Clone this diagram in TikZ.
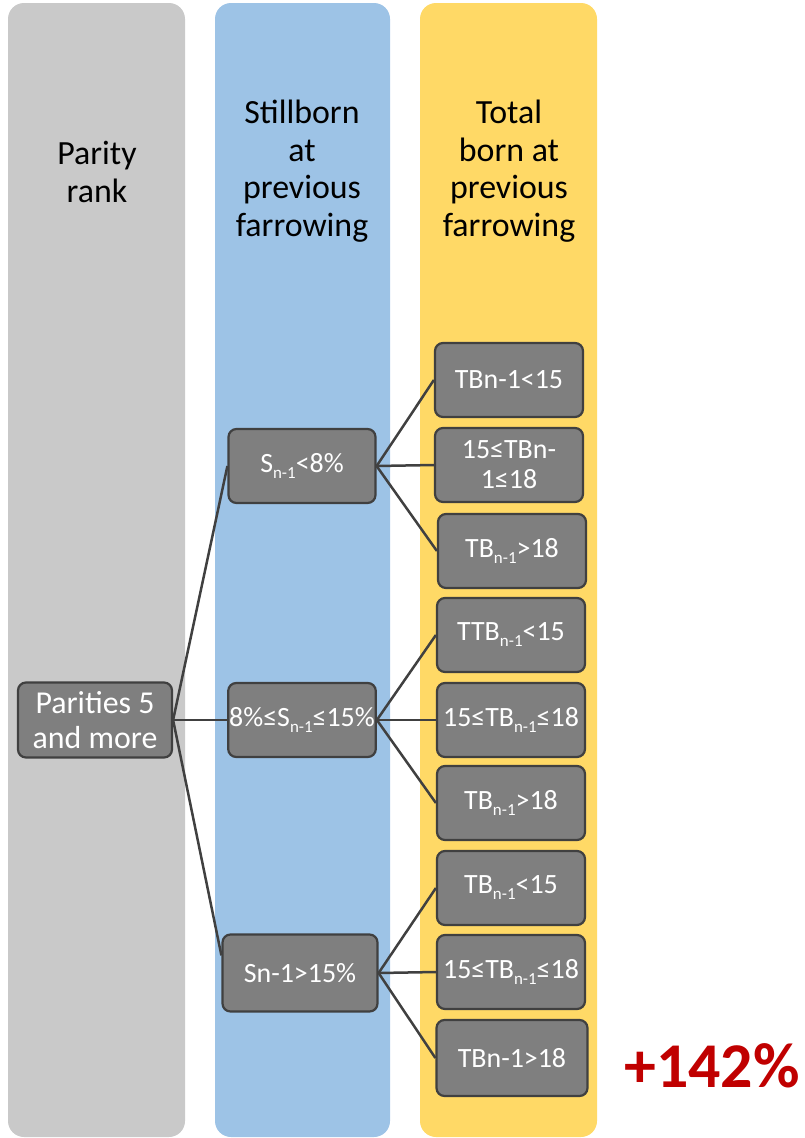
\documentclass[tikz,border=0pt]{standalone}
\usepackage{fontspec}
\setmainfont{Carlito}
\definecolor{colgray}{HTML}{C9C9C9}
\definecolor{colblue}{HTML}{9DC3E6}
\definecolor{colyellow}{HTML}{FFD966}
\definecolor{boxgray}{HTML}{7F7F7F}
\definecolor{linec}{HTML}{404040}
\definecolor{redtxt}{HTML}{C00000}
\newcommand{\sbs}[1]{\raisebox{-0.45ex}{\fontsize{17}{17}\selectfont #1}}
\tikzset{
  colbg/.style={rounded corners=16bp},
  box/.style={draw=linec, line width=2.2bp, fill=boxgray, rounded corners=8bp, text=white,
    minimum width=148bp, minimum height=74bp, inner sep=1bp, align=center,
    font=\fontsize{28}{32}\selectfont},
  link/.style={draw=linec, line width=2.5bp},
  hdr/.style={align=center, text=black, font=\fontsize{34}{37.7}\selectfont}
}
\begin{document}
\begin{tikzpicture}[x=1bp,y=-1bp]
\useasboundingbox (0,0) rectangle (805,1138);
% columns
\fill[colbg, colgray] (8,3) rectangle (185,1137);
\fill[colbg, colblue] (215,3) rectangle (390,1137);
\fill[colbg, colyellow] (420,3) rectangle (597,1137);
% headers
\node[hdr] (h1) at (97,172) {Parity\\rank};
\node[hdr] (h2) at (302,171) {Stillborn\\at\\previous\\farrowing};
\node[hdr] (h3) at (509,171) {Total\\born at\\previous\\farrowing};
% nodes
\node[box, minimum width=154bp, minimum height=75bp, font=\fontsize{32}{35}\selectfont] (par) at (95,720) {Parities 5\\and more};
\node[box, minimum width=147bp] (s1) at (302,466) {S\sbs{n-1}<8\%};
\node[box, minimum width=147bp, font=\fontsize{28}{32}\selectfont] (s2) at (302,720) {8\%≤S\sbs{n-1}≤15\%};
\node[box, minimum width=155bp, minimum height=77bp] (s3) at (300,973) {Sn-1>15\%};
\node[box] (t1) at (509,380) {TBn-1<15};
\node[box, font=\fontsize{28}{30}\selectfont] (t2) at (509,465) {15≤TBn-\\1≤18};
\node[box] (t3) at (512,551) {TB\sbs{n-1}>18};
\node[box] (t4) at (511,635) {TTB\sbs{n-1}<15};
\node[box, font=\fontsize{28}{32}\selectfont] (t5) at (511,720) {15≤TB\sbs{n-1}≤18};
\node[box] (t6) at (511,803) {TB\sbs{n-1}>18};
\node[box] (t7) at (511,888) {TB\sbs{n-1}<15};
\node[box, font=\fontsize{28}{32}\selectfont] (t8) at (511,972) {15≤TB\sbs{n-1}≤18};
\node[box, minimum width=151bp, minimum height=76bp] (t9) at (512,1058) {TBn-1>18};
% result
\node[text=redtxt, font=\fontsize{64}{70}\selectfont\bfseries] (res) at (712,1066) {+142\%};
% connectors
\draw[link] (par.east) -- (s1.west);
\draw[link] (par.east) -- (s2.west);
\draw[link] (par.east) -- ([yshift=-22bp]s3.north west);
\foreach \t in {t1,t2,t3} \draw[link] (s1.east) -- (\t.west);
\foreach \t in {t4,t5,t6} \draw[link] (s2.east) -- (\t.west);
\foreach \t in {t7,t8,t9} \draw[link] (s3.east) -- (\t.west);
\end{tikzpicture}
\end{document}
